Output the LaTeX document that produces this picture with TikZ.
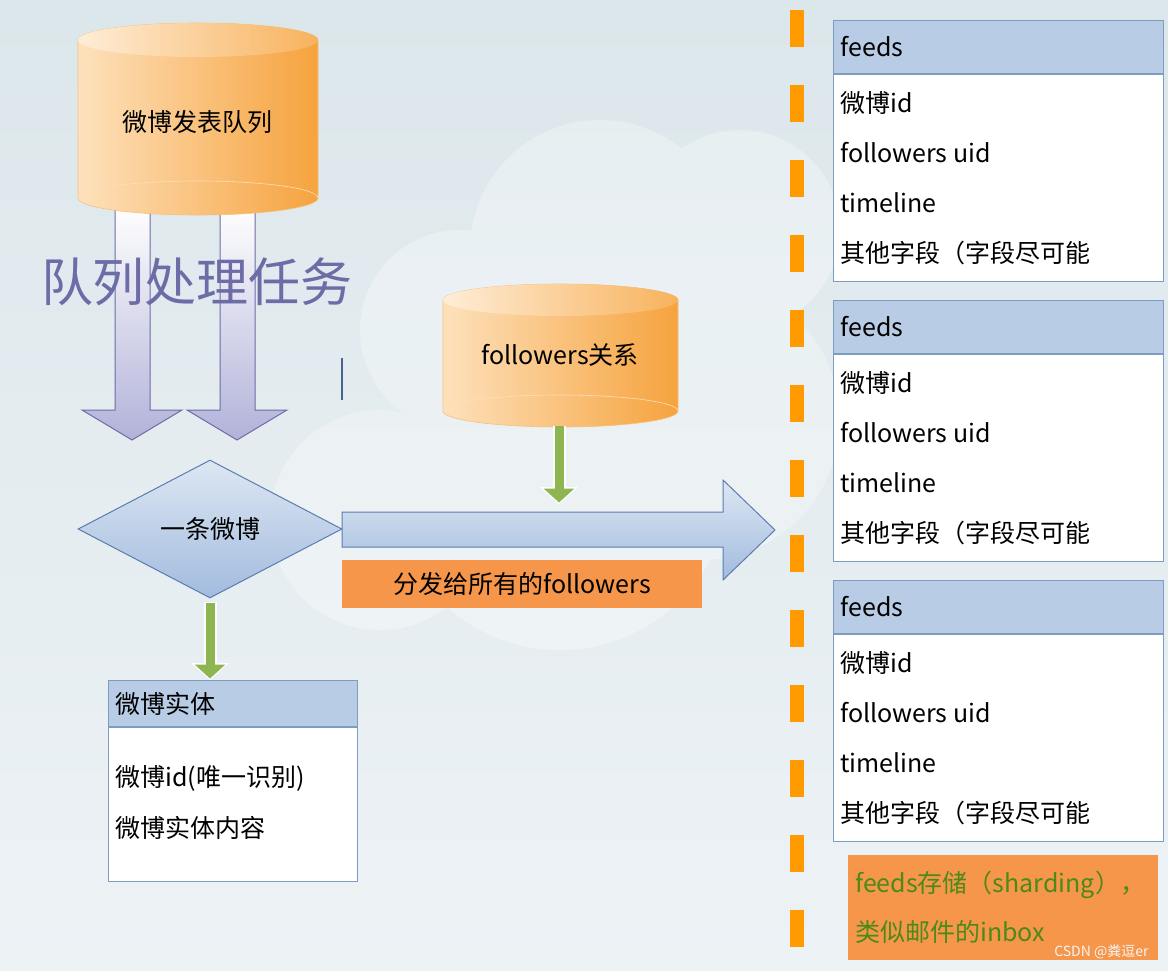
\documentclass[tikz,border=0pt]{standalone}
\usepackage{fontspec}
\setmainfont{Noto Sans CJK SC}
\usetikzlibrary{arrows.meta, positioning, calc, shapes.geometric}
\definecolor{bgtop}{HTML}{DCE7EB}
\definecolor{bgbot}{HTML}{EDF2F5}
\definecolor{cylLight}{HTML}{FDE1BC}
\definecolor{cylDark}{HTML}{F6A33E}
\definecolor{hdrblue}{HTML}{B9CCE5}
\definecolor{tblline}{HTML}{7E9BC0}
\definecolor{postTop}{HTML}{DDE7F3}
\definecolor{postBot}{HTML}{A2BBDE}
\definecolor{arrline}{HTML}{5C7CB0}
\definecolor{lavender}{HTML}{B2B2DA}
\definecolor{lavline}{HTML}{6C6CA6}
\definecolor{lblorange}{HTML}{F5964B}
\definecolor{dashorange}{HTML}{FF9A00}
\definecolor{leafgreen}{HTML}{8DB650}
\definecolor{notegreen}{HTML}{4C8A18}
\newcommand{\bodyfont}{\fontsize{25}{30}\selectfont}

\begin{document}
\begin{tikzpicture}[x=1pt, y=-1pt,
    hdrbox/.style={draw=tblline, fill=hdrblue, line width=1pt, anchor=north west,
                   align=left, inner xsep=7pt, font=\bodyfont},
    bodybox/.style={draw=tblline, fill=white, line width=1pt, anchor=north},
    rowtext/.style={anchor=west, inner sep=0pt, font=\bodyfont},
    lblbox/.style={fill=lblorange, anchor=north west, font=\bodyfont},
    greenarr/.style={-{Triangle[width=30pt,length=14pt]}, line width=9pt, leafgreen},
    glowarr/.style={-{Triangle[width=37pt,length=17pt]}, line width=13pt, white},
    blockarr/.style={top color=white, bottom color=lavender, draw=lavline, line width=1pt},
    cylshade/.style={left color=cylLight, right color=cylDark, draw=cylDark!70, line width=0.6pt}
  ]
    \useasboundingbox (0,0) rectangle (1168,970);
    % background and clouds
    \shade[top color=bgtop, bottom color=bgbot] (0,0) rectangle (1168,970);
    \begin{scope}[transparency group, opacity=0.3]
      \fill[white] (560,480) circle[radius=170pt] (380,520) circle[radius=110pt]
        (700,420) circle[radius=140pt] (600,250) circle[radius=130pt]
        (740,230) circle[radius=100pt] (460,330) circle[radius=100pt];
    \end{scope}

    % queue -> two hollow arrows
    \shade[blockarr] (115,205) -- (115,410) -- (82,410) -- (132,440) -- (182,410)
      -- (150,410) -- (150,205) -- cycle;
    \shade[blockarr] (220,205) -- (220,410) -- (187,410) -- (237,440) -- (287,410)
      -- (255,410) -- (255,205) -- cycle;

    % queue cylinder
    \shade[cylshade] (78,40) -- (78,198)
      arc[start angle=180, end angle=360, x radius=120pt, y radius=17pt]
      -- (318,40) arc[start angle=0, end angle=180, x radius=120pt, y radius=17pt] -- cycle;
    \shade[left color=cylLight!60!white, right color=cylDark!75!cylLight] (198,40)
      ellipse[x radius=120pt, y radius=17pt];
    \draw[cylDark!35!white, line width=0.6pt] (78,198)
      arc[start angle=180, end angle=0, x radius=120pt, y radius=17pt];
    \node[font=\bodyfont] (queue) at (197,122) {微博发表队列};

    \node[font=\fontsize{52}{60}\selectfont, lavline] (task) at (197,282) {队列处理任务};
    \draw[arrline!80!black, line width=1.5pt] (342,358) -- (342,400);

    % followers cylinder
    \shade[cylshade] (443,300) -- (443,411)
      arc[start angle=180, end angle=360, x radius=117.5pt, y radius=16pt]
      -- (678,300) arc[start angle=0, end angle=180, x radius=117.5pt, y radius=16pt] -- cycle;
    \shade[left color=cylLight!60!white, right color=cylDark!75!cylLight] (560.5,300)
      ellipse[x radius=117.5pt, y radius=16pt];
    \draw[cylDark!35!white, line width=0.6pt] (443,411)
      arc[start angle=180, end angle=0, x radius=117.5pt, y radius=16pt];
    \node[font=\bodyfont] (fol) at (560,355) {followers关系};
    \coordinate (folbase) at (559,426);

    % one post, fan-out arrow
    \node[diamond, aspect=1.9, minimum width=264pt, minimum height=138pt, inner sep=0pt,
          top color=postTop, bottom color=postBot, draw=arrline, line width=1pt,
          font=\bodyfont] (post) at (210,529) {一条微博};
    \shade[top color=postTop, bottom color=postBot, draw=arrline, line width=1pt]
      (342,512) -- (723,512) -- (723,480) -- (775,530) -- (723,580) -- (723,547)
      -- (342,547) -- cycle;
    \coordinate (fanin) at (559,504);
    \node[lblbox, minimum width=360pt, minimum height=48pt] (fanlbl) at (342,560)
      {分发给所有的followers};

    \draw[glowarr] (folbase) -- (fanin);
    \draw[greenarr, shorten >=1.5pt] (folbase) -- (fanin);

    % post entity
    \node[hdrbox, text width=235pt, minimum height=46pt] (enth) at (108,680) {微博实体};
    \node[bodybox, minimum width=249pt, minimum height=154pt] (entb) at (enth.south) {};
    \node[rowtext] (entr1) at (115,778) {微博id(唯一识别)};
    \node[rowtext] (entr2) at (115,828) {微博实体内容};

    \draw[glowarr, shorten <=3pt] (post.south) -- (post.south |- enth.north);
    \draw[greenarr, shorten <=4pt, shorten >=1.5pt] (post.south) -- (post.south |- enth.north);

    % feeds storage
    \draw[dashorange, line width=14pt, dash pattern=on 37pt off 38pt] (797,10) -- (797,950);
    \foreach \tb/\ty in {1/20, 2/300, 3/580} {
      \node[hdrbox, text width=316pt, minimum height=53pt] (f\tb h) at (833,\ty) {feeds};
      \node[bodybox, minimum width=330pt, minimum height=207pt] (f\tb b) at (f\tb h.south) {};
      \foreach \txt [count=\i] in {微博id, followers uid, timeline, 其他字段（字段尽可能}
        \node[rowtext] (f\tb r\i) at (840, {\ty+33+50*\i}) {\txt};
    }
    \node[lblbox, minimum width=310pt, minimum height=105pt, text width=296pt, align=left,
          inner xsep=7pt, text=notegreen, font=\fontsize{25}{49}\selectfont] (note) at (848,855)
      {feeds存储（sharding），\\类似邮件的inbox};
    \node[font=\fontsize{14}{16}\selectfont, white!92!gray, anchor=east] (mark) at (1152,952)
      {CSDN @粪逗er};
  \end{tikzpicture}
\end{document}
